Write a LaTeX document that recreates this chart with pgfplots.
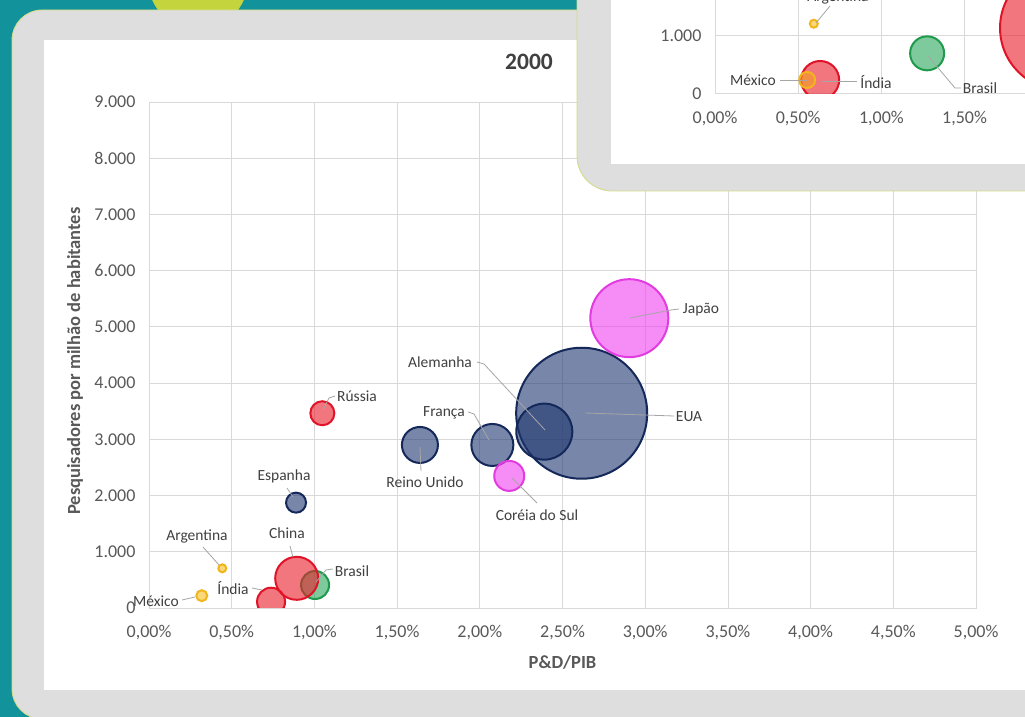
\documentclass[border=0pt]{standalone}
\usepackage{fontspec}
\setmainfont{Carlito}
\usepackage{pgfplots}
\pgfplotsset{compat=1.18}

\definecolor{teal1}{HTML}{12929B}
\definecolor{lime1}{HTML}{C4D43C}
\definecolor{panel}{HTML}{DEDEDE}
\definecolor{edge}{HTML}{D2DB84}
\definecolor{gridc}{HTML}{D9D9D9}
\definecolor{tickc}{HTML}{595959}
\definecolor{lblc}{HTML}{404040}
\definecolor{leadc}{HTML}{A6A6A6}
\definecolor{navyD}{HTML}{14285A}
\definecolor{navyF}{HTML}{1F3670}
\definecolor{redD}{HTML}{E01428}
\definecolor{redF}{HTML}{EA1C28}
\definecolor{grnD}{HTML}{1E9A4C}
\definecolor{grnF}{HTML}{2AA85A}
\definecolor{yelD}{HTML}{F2B51C}
\definecolor{yelF}{HTML}{F5C020}
\definecolor{orgF}{HTML}{F5A020}
\definecolor{pnkD}{HTML}{E03CE0}
\definecolor{pnkF}{HTML}{F040F0}

\pgfplotsset{
  excel/.style={
    scale only axis,
    axis line style={gridc, line width=0.8pt},
    grid=major,
    major grid style={gridc, line width=0.8pt},
    major tick length=0pt,
    tick style={draw=none},
    tick label style={font=\fontsize{18}{20}\selectfont, text=tickc},
    xticklabel style={yshift=-14pt},
    yticklabel style={xshift=-10pt},
    scaled ticks=false,
    clip marker paths=true,
  },
  bub/.style n args={3}{only marks, mark=*, mark size=#3,
    mark options={draw=#1, fill=#2, fill opacity=0.6, line width=2pt}},
}
\tikzset{
  lbl/.style={font=\fontsize{15.5}{17}\selectfont, text=lblc, inner sep=0pt},
  lead/.style={draw=leadc, line width=0.8pt},
  img/.style={x=1pt, y=-1pt, shift={(0pt,717pt)}},
}

\begin{document}
\begin{tikzpicture}
\useasboundingbox (0,0) rectangle (1025pt,717pt);
\clip (0,0) rectangle (1025pt,717pt);
% background
\begin{scope}[img]
  \fill[teal1] (0,0) rectangle (1025,717);
  \fill[lime1] (198,-20) circle (50);
  \filldraw[fill=panel, draw=edge, line width=0.8pt, rounded corners=30pt] (12,10) rectangle (1080,719);
  \fill[white] (44,40) rectangle (1030,690);
\end{scope}

% main chart
\begin{axis}[excel,
  at={(149pt,109pt)}, anchor=south west,
  width=827pt, height=506pt,
  xmin=0, xmax=5, ymin=0, ymax=9000,
  xtick={0,0.5,1,1.5,2,2.5,3,3.5,4,4.5,5},
  xticklabels={{0,00\%},{0,50\%},{1,00\%},{1,50\%},{2,00\%},{2,50\%},{3,00\%},{3,50\%},{4,00\%},{4,50\%},{5,00\%}},
  ytick={0,1000,2000,3000,4000,5000,6000,7000,8000,9000},
  yticklabels={0,{1.000},{2.000},{3.000},{4.000},{5.000},{6.000},{7.000},{8.000},{9.000}},
  title={2000},
  title style={at={(axis description cs:0.4595,1.067)}, anchor=center,
    font=\bfseries\fontsize{23.5}{25}\selectfont, text=lblc},
  xlabel={P\&D/PIB},
  xlabel style={at={(axis description cs:0.5,-0.107)}, anchor=center,
    font=\bfseries\fontsize{18.5}{20}\selectfont, text=tickc},
  ylabel={Pesquisadores por milhão de habitantes},
  ylabel style={at={(axis description cs:-0.0895,0.488)}, anchor=center, rotate=0,
    font=\bfseries\fontsize{18.5}{20}\selectfont, text=tickc},
]
% Brasil
\addplot[bub={grnD}{grnF}{14pt}] coordinates {(1.004,409)};
% India
\addplot[bub={redD}{redF}{14pt}] coordinates {(0.738,112)};
% China
\addplot[bub={redD}{redF}{21.5pt}] coordinates {(0.893,528)};
% Mexico
\addplot[bub={yelD}{yelF}{5.5pt}] coordinates {(0.319,219)};
% Argentina
\addplot[bub={yelD}{yelF}{4pt}] coordinates {(0.443,706)};
% Espanha
\addplot[bub={navyD}{navyF}{10pt}] coordinates {(0.889,1874)};
% Russia
\addplot[bub={redD}{redF}{12pt}] coordinates {(1.048,3464)};
% Reino Unido
\addplot[bub={navyD}{navyF}{18pt}] coordinates {(1.638,2900)};
% Franca
\addplot[bub={navyD}{navyF}{21pt}] coordinates {(2.076,2900)};
% EUA
\addplot[bub={navyD}{navyF}{65.5pt}] coordinates {(2.616,3464)};
% Alemanha
\addplot[bub={navyD}{navyF}{28pt}] coordinates {(2.390,3137)};
% Coreia do Sul
\addplot[bub={pnkD}{pnkF}{15pt}] coordinates {(2.178,2349)};
% Japao
\addplot[bub={pnkD}{pnkF}{39pt}] coordinates {(2.904,5155)};
\end{axis}

% main labels
\begin{scope}[img]
  \node[lbl] at (156,601) {México};
  \draw[lead] (182,600) -- (195,597);
  \node[lbl] at (197,536) {Argentina};
  \draw[lead] (203,547) -- (219,565);
  \node[lbl] at (233,588) {Índia};
  \draw[lead] (252,588) -- (262,590);
  \node[lbl] at (287,533) {China};
  \draw[lead] (290,546) -- (293,557);
  \node[lbl] at (352,571) {Brasil};
  \draw[lead] (333,569) -- (326,570) -- (316,582);
  \node[lbl] at (284,476) {Espanha};
  \draw[lead] (287,488) -- (293,497);
  \node[lbl] at (357,396) {Rússia};
  \draw[lead] (335,396) -- (329,398) -- (323,410);
  \node[lbl] at (425,482) {Reino Unido};
  \draw[lead] (421,471) -- (420,447);
  \node[lbl] at (444,413) {França};
  \draw[lead] (468,412) -- (474,414) -- (489,440);
  \node[lbl] at (440,362) {Alemanha};
  \draw[lead] (477,362) -- (484,364) -- (545,430);
  \node[lbl] at (689,417) {EUA};
  \draw[lead] (674,416) -- (585,413);
  \node[lbl] at (537,515) {Coréia do Sul};
  \draw[lead] (537,503) -- (512,478);
  \node[lbl] at (701,310) {Japão};
  \draw[lead] (679,309) -- (671,310) -- (630,318);
\end{scope}

% inset card
\begin{scope}[img]
  \filldraw[fill=panel, draw=edge, line width=0.8pt, rounded corners=35pt] (577,-60) rectangle (1080,191);
  \fill[white] (611,-10) rectangle (1030,164);
\end{scope}

\begin{axis}[excel,
  at={(715pt,623.7pt)}, anchor=south west,
  width=366pt, height=115.2pt,
  xmin=0, xmax=2.2, ymin=0, ymax=2000,
  xtick={0,0.5,1,1.5},
  xticklabels={{0,00\%},{0,50\%},{1,00\%},{1,50\%}},
  ytick={0,1000},
  yticklabels={0,{1.000}},
  extra x ticks={2}, extra x tick labels={},
  extra y ticks={2000}, extra y tick labels={},
]
\addplot[bub={grnD}{grnF}{17pt}] coordinates {(1.275,694)};
\addplot[bub={redD}{redF}{19pt}] coordinates {(0.632,231)};
\addplot[bub={yelD}{orgF}{8pt}] coordinates {(0.554,231)};
\addplot[bub={yelD}{yelF}{4pt}] coordinates {(0.594,1208)};
\addplot[bub={redD}{redF}{62pt}] coordinates {(2.086,1134)};
\end{axis}

\begin{scope}[img]
  \node[lbl] at (753,80) {México};
  \draw[lead] (780,80) -- (807,80);
  \node[lbl] at (876,82) {Índia};
  \draw[lead] (857,81) -- (822,81);
  \node[lbl] at (980,88) {Brasil};
  \draw[lead] (961,88) -- (955,88) -- (928,56);
  \node[lbl] at (838,-3) {Argentina};
  \draw[lead] (816,23) -- (830,6);
\end{scope}
\end{tikzpicture}
\end{document}
